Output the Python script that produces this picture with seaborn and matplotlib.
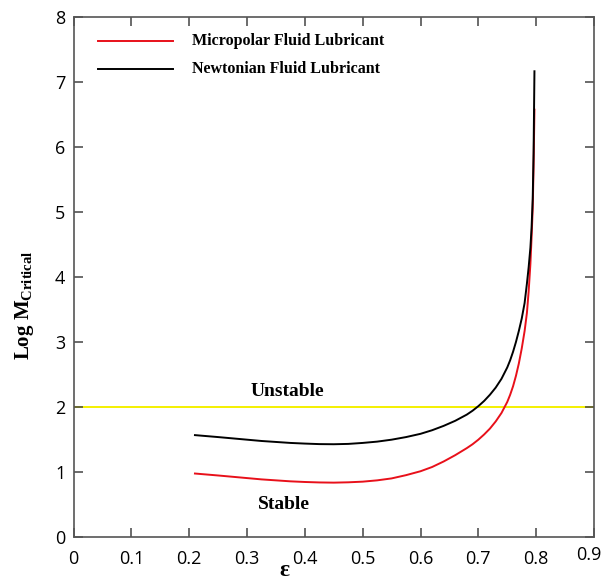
import numpy as np
import pandas as pd
import matplotlib
matplotlib.use('Agg')
import matplotlib.pyplot as plt
import matplotlib.transforms as mtransforms
import seaborn as sns

# eccentricity ratio and log critical mass values
eps = [0.21, 0.23, 0.25, 0.275, 0.30, 0.325, 0.35, 0.375, 0.40, 0.425,
       0.45, 0.475, 0.50, 0.525, 0.55, 0.575, 0.60, 0.62, 0.64, 0.66,
       0.68, 0.69, 0.70, 0.71, 0.72, 0.73, 0.74, 0.75, 0.755, 0.76, 0.765,
       0.77, 0.775, 0.78, 0.784, 0.787, 0.790, 0.792, 0.794, 0.7955, 0.797]
newtonian = [1.57, 1.555, 1.54, 1.52, 1.50, 1.48, 1.465, 1.45, 1.44, 1.432,
             1.43, 1.435, 1.45, 1.47, 1.50, 1.54, 1.59, 1.645, 1.712, 1.79,
             1.885, 1.945, 2.015, 2.095, 2.19, 2.30, 2.435, 2.61, 2.72, 2.85,
             3.00, 3.17, 3.36, 3.60, 3.90, 4.15, 4.45, 4.75, 5.20, 5.90, 7.16]
micropolar = [0.98, 0.965, 0.95, 0.93, 0.91, 0.89, 0.875, 0.86, 0.85, 0.843,
              0.84, 0.845, 0.855, 0.875, 0.905, 0.955, 1.015, 1.08, 1.165, 1.262,
              1.37, 1.43, 1.50, 1.58, 1.67, 1.78, 1.91, 2.08, 2.19, 2.32, 2.48,
              2.67, 2.90, 3.17, 3.45, 3.78, 4.20, 4.60, 5.05, 5.70, 6.57]
stability_limit = 2.0

x_ticks = [0, 0.1, 0.2, 0.3, 0.4, 0.5, 0.6, 0.7, 0.8, 0.9]
y_ticks = [0, 1, 2, 3, 4, 5, 6, 7, 8]

df = pd.DataFrame({'eps': eps + eps,
                   'logM': micropolar + newtonian,
                   'fluid': ['Micropolar Fluid Lubricant'] * len(eps)
                            + ['Newtonian Fluid Lubricant'] * len(eps)})

plt.rcParams['font.family'] = ['Open Sans', 'DejaVu Sans']
plt.rcParams['mathtext.fontset'] = 'custom'
plt.rcParams['mathtext.rm'] = 'Liberation Serif:bold'
plt.rcParams['mathtext.bf'] = 'Liberation Serif:bold'
plt.rcParams['xtick.direction'] = 'in'
plt.rcParams['ytick.direction'] = 'in'
plt.rcParams['xtick.top'] = True
plt.rcParams['ytick.right'] = True
plt.rcParams['xtick.major.size'] = 6.5
plt.rcParams['ytick.major.size'] = 6.5

fig = plt.figure(figsize=(6.03, 5.80), dpi=100)
ax = fig.add_axes([0.1219, 0.0736, 0.8632, 0.8978])

sns.lineplot(data=df, x='eps', y='logM', hue='fluid', sort=False,
             palette={'Micropolar Fluid Lubricant': '#e8101a',
                      'Newtonian Fluid Lubricant': 'black'},
             linewidth=1.4, ax=ax, legend=False)
ax.axhline(stability_limit, color='#f4f000', linewidth=1.4, zorder=0)

ax.set_xlim(0, 0.9)
ax.set_ylim(0, 8)
ax.set_xticks(x_ticks)
ax.set_xticklabels([f'{t:g}' for t in x_ticks], fontsize=13)
ax.set_yticks(y_ticks)
ax.set_yticklabels([str(t) for t in y_ticks], fontsize=13)
ax.tick_params(which='major', direction='in', length=6.5, width=1.1,
               color='#444444', bottom=True, left=True, top=True, right=True)
ax.tick_params(axis='x', pad=9)
ax.tick_params(axis='y', pad=6)
# last x label sits against the figure edge
lbl = ax.get_xticklabels()[-1]
lbl.set_transform(lbl.get_transform() +
                  mtransforms.ScaledTranslation(-5 / 100, 4 / 100,
                                                fig.dpi_scale_trans))
for s in ax.spines.values():
    s.set_color('#555555')
    s.set_linewidth(1.2)

serif = {'family': 'Liberation Serif', 'weight': 'bold'}
ax.set_xlabel('ε', fontdict=serif, fontsize=17)
ax.xaxis.set_label_coords(0.406, -0.043)
ax.xaxis.label.set_va('top')
ax.set_ylabel(r'Log M$_{\mathbf{Critical}}$', fontdict=serif, fontsize=15)
ax.yaxis.set_label_coords(-0.072, 0.446)

# legend drawn as a plain key in the top left corner
ax.plot([0.043, 0.172], [7.62, 7.62], color='#e8101a', lw=1.4)
ax.plot([0.043, 0.172], [7.20, 7.20], color='black', lw=1.4)
ax.text(0.205, 7.62, 'Micropolar Fluid Lubricant', va='center',
        fontdict=serif, fontsize=11.5)
ax.text(0.205, 7.20, 'Newtonian Fluid Lubricant', va='center',
        fontdict=serif, fontsize=11.5)

ax.text(0.370, 2.24, 'Unstable', ha='center', va='center', fontdict=serif,
        fontsize=14)
ax.text(0.363, 0.50, 'Stable', ha='center', va='center', fontdict=serif,
        fontsize=14)

plt.savefig('out.png', dpi=100)
